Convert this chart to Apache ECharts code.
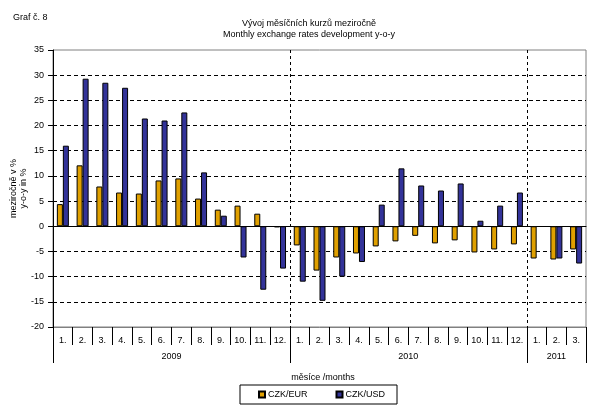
<!DOCTYPE html>
<html><head><meta charset="utf-8">
<script src="https://cdn.jsdelivr.net/npm/echarts@6/dist/echarts.min.js"></script>
<style>html,body{margin:0;padding:0;background:#fff}#c{width:601px;height:412px}</style>
</head><body><div id="c"></div>
<script>
const months = ['1.','2.','3.','4.','5.','6.','7.','8.','9.','10.','11.','12.','1.','2.','3.','4.','5.','6.','7.','8.','9.','10.','11.','12.','1.','2.','3.'];
const years = ['2009','2010','2011'];
const yearStart = [0, 12, 24];
const yearLen = [12, 12, 3];
const czkEur = [4.4,12.1,7.9,6.7,6.5,9.1,9.5,5.5,3.3,4.1,2.5,-0.2,-3.8,-8.8,-6.2,-5.4,-4.0,-3.0,-1.9,-3.4,-2.8,-5.2,-4.6,-3.6,-6.4,-6.6,-4.6];
const czkUsd = [16.0,29.3,28.5,27.5,21.4,21.0,22.6,10.7,2.1,-6.2,-12.6,-8.4,-11.0,-14.8,-10.0,-7.1,4.3,11.5,8.1,7.1,8.5,1.1,4.1,6.7,null,-6.4,-7.4];
const yTicks = {min: -20, max: 35, interval: 5};

const FONT = 'Arial';
const chart = echarts.init(document.getElementById('c'), null, {renderer: 'canvas'});

const yearLabelIdx = {};
yearStart.forEach((s, i) => { yearLabelIdx[s + Math.floor((yearLen[i] - 1) / 2)] = {name: years[i], even: yearLen[i] % 2 === 0}; });
const yearAxisData = months.map((m, i) => yearLabelIdx[i] ? yearLabelIdx[i].name : '');
const bandW = (601 - 53 - 15) / months.length;

chart.setOption({
  animation: false,
  textStyle: {fontFamily: FONT},
  title: [
    {text: 'Graf č. 8', left: 8, top: 8, textStyle: {fontSize: 9, fontWeight: 'normal', color: '#000', fontFamily: FONT}},
    {text: 'Vývoj měsíčních kurzů meziročně\nMonthly exchange rates development y-o-y', left: 304, top: 13, textAlign: 'center',
     textStyle: {fontSize: 9, fontWeight: 'normal', color: '#000', lineHeight: 11, fontFamily: FONT}},
    {text: 'měsíce /months', left: 318, top: 368, textAlign: 'center', textStyle: {fontSize: 9, fontWeight: 'normal', color: '#000', fontFamily: FONT}}
  ],
  legend: {
    left: 240, top: 385, padding: [5, 12, 5, 18], itemGap: 28,
    borderColor: '#000', borderWidth: 1,
    itemWidth: 6, itemHeight: 6, icon: 'rect',
    textStyle: {fontSize: 9, color: '#000', fontFamily: FONT, padding: [0, 0, 0, -2]},
    data: ['CZK/EUR', 'CZK/USD']
  },
  grid: {left: 53, right: 15, top: 50, bottom: 85, show: true, borderColor: '#808080', borderWidth: 1,
    containLabel: false, outerBoundsMode: 'none'},
  xAxis: [
    {
      type: 'category', data: months, position: 'bottom', boundaryGap: true,
      axisLine: {onZero: false, lineStyle: {color: '#808080'}},
      axisTick: {show: true, interval: 0, length: 18, lineStyle: {color: '#000'}},
      axisLabel: {interval: 0, margin: 9, fontSize: 9, color: '#000', fontFamily: FONT},
      splitLine: {show: true, showMinLine: true, showMaxLine: false,
        interval: (i) => i === 12 || i === 24,
        lineStyle: {color: '#000', type: [3, 3], width: 1}}
    },
    {
      type: 'category', data: yearAxisData, position: 'bottom', boundaryGap: true,
      axisLine: {show: false, onZero: false},
      axisTick: {show: true, length: 36, interval: (i) => yearStart.indexOf(i) >= 0, lineStyle: {color: '#000'}},
      axisLabel: {interval: (i) => !!yearLabelIdx[i], margin: 25, fontSize: 9, color: '#000', fontFamily: FONT,
        formatter: (v, i) => yearLabelIdx[i] && yearLabelIdx[i].even ? '{e|' + v + '}' : v,
        rich: {e: {padding: [0, 0, 0, bandW], fontSize: 9, color: '#000', fontFamily: FONT}}},
      splitLine: {show: false}
    },
    {
      type: 'category', data: months, position: 'bottom', boundaryGap: true,
      axisLine: {show: true, onZero: true, lineStyle: {color: '#000', width: 1}},
      axisTick: {show: false}, axisLabel: {show: false}, splitLine: {show: false}
    }
  ],
  yAxis: {
    type: 'value', min: yTicks.min, max: yTicks.max, interval: yTicks.interval,
    axisLine: {show: true, lineStyle: {color: '#000'}},
    axisTick: {show: true, length: 5, lineStyle: {color: '#000'}},
    axisLabel: {margin: 9, fontSize: 9, color: '#000', fontFamily: FONT},
    splitLine: {show: true, showMinLine: false, showMaxLine: false, lineStyle: {color: '#000', type: [4, 3], width: 1}},
    name: 'meziročně v %\ny-o-y in %', nameLocation: 'middle', nameGap: 24, nameRotate: 90, nameMoveOverlap: false,
    nameTextStyle: {fontSize: 9, color: '#000', lineHeight: 10, fontFamily: FONT}
  },
  series: [
    {name: 'CZK/EUR', type: 'bar', data: czkEur, barWidth: 6, barGap: '0%',
     itemStyle: {color: '#E0A000', borderColor: '#000', borderWidth: 1}},
    {name: 'CZK/USD', type: 'bar', data: czkUsd, barWidth: 6, barGap: '0%',
     itemStyle: {color: '#333399', borderColor: '#000', borderWidth: 1}}
  ]
});
</script></body></html>
